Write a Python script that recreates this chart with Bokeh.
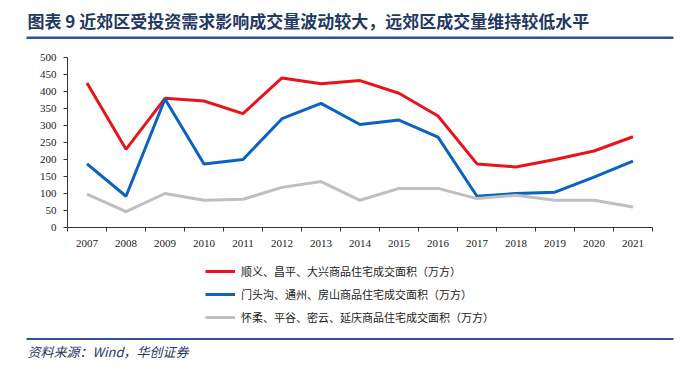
from bokeh.plotting import figure
from bokeh.models import (FixedTicker, Label, BoxAnnotation, Legend, LegendItem,
                          ColumnDataSource, LinearAxis)
from bokeh.embed import file_html
from bokeh.resources import INLINE

years = [2007, 2008, 2009, 2010, 2011, 2012, 2013, 2014, 2015, 2016, 2017, 2018, 2019, 2020, 2021]
near = [425, 230, 380, 372, 335, 440, 423, 432, 395, 328, 187, 178, 200, 225, 267]
mid = [187, 92, 378, 187, 200, 320, 365, 303, 316, 266, 92, 100, 104, 148, 195]
far = [98, 47, 100, 80, 83, 118, 135, 80, 115, 115, 85, 95, 80, 80, 60]
series_names = ["顺义、昌平、大兴商品住宅成交面积（万方）",
                "门头沟、通州、房山商品住宅成交面积（万方）",
                "怀柔、平谷、密云、延庆商品住宅成交面积（万方）"]
y_ticks = [0, 50, 100, 150, 200, 250, 300, 350, 400, 450, 500]
title_text = "图表 9  近郊区受投资需求影响成交量波动较大，远郊区成交量维持较低水平"
source_text = "资料来源：Wind，华创证券"

# layout (canvas pixels, measured from top-left)
W, H = 684, 362
px_left, px_right = 67, 652          # plot area x extent
px_top, px_bottom = 57, 227          # y of 500 and of 0
x0, x1 = years[0] - 0.5, years[-1] + 0.5
y0, y1 = 0, 500
sx = (px_right - px_left) / (x1 - x0)
sy = (px_bottom - px_top) / (y1 - y0)
x_range = (x0 - px_left / sx, x1 + (W - px_right) / sx)
y_range = (y0 - (H - px_bottom) / sy, y1 + px_top / sy)

def fy(top_y):
    """screen y measured from bottom"""
    return H - top_y

p = figure(width=W, height=H, output_backend="svg", toolbar_location=None,
           x_range=x_range, y_range=y_range,
           x_axis_location=None, y_axis_location=None,
           min_border=0)
p.outline_line_color = None
p.xgrid.visible = False
p.ygrid.visible = False

cols = ["#E8141C", "#0B62C0", "#BFBFBF"]
rs = []
for vals, c in zip([near, mid, far], cols):
    src = ColumnDataSource(dict(x=years, y=vals))
    rs.append(p.line("x", "y", source=src, line_color=c, line_width=3))

tick_font = "Liberation Serif"
axc = "#333333"
xaxis = LinearAxis(fixed_location=0, bounds=(x0, x1),
                   ticker=FixedTicker(ticks=years, minor_ticks=[y - 0.5 for y in years] + [x1]),
                   major_tick_out=0, major_tick_in=0, minor_tick_out=4, minor_tick_in=0,
                   major_label_text_font=tick_font, major_label_text_font_size="11px",
                   major_label_text_color="#222222", axis_line_color=axc,
                   minor_tick_line_color=axc, major_label_standoff=8)
yaxis = LinearAxis(fixed_location=x0, bounds=(y0, y1),
                   ticker=FixedTicker(ticks=y_ticks, minor_ticks=[]),
                   major_tick_out=4, major_tick_in=0, minor_tick_out=0,
                   major_label_text_font=tick_font, major_label_text_font_size="11px",
                   major_label_text_color="#222222", axis_line_color=axc,
                   major_tick_line_color=axc, major_label_standoff=7)
p.add_layout(xaxis, "below")
p.add_layout(yaxis, "left")

legend = Legend(items=[LegendItem(label=n, renderers=[r]) for n, r in zip(series_names, rs)],
                orientation="vertical", location=(205, fy(317) - 8),
                label_text_font="Noto Sans CJK SC", label_text_font_size="11px",
                label_text_color="#222222", glyph_width=30, glyph_height=14,
                label_height=14, spacing=7, padding=0, margin=0,
                border_line_color=None, background_fill_alpha=0, label_standoff=6)
p.add_layout(legend, "center")

navy = "#1F3864"
rule = "#2F5597"
p.add_layout(Label(x=27, y=fy(20), x_units="screen", y_units="screen", text=title_text,
                   text_font="Noto Sans CJK SC", text_font_style="bold",
                   text_font_size="17px", text_color=navy, text_baseline="middle"))
p.add_layout(BoxAnnotation(left=26, right=673, top=fy(36), bottom=fy(38.5),
                           left_units="screen", right_units="screen",
                           top_units="screen", bottom_units="screen",
                           fill_color=rule, fill_alpha=1, line_color=None))
p.add_layout(BoxAnnotation(left=26, right=673, top=fy(337.5), bottom=fy(339.5),
                           left_units="screen", right_units="screen",
                           top_units="screen", bottom_units="screen",
                           fill_color=rule, fill_alpha=1, line_color=None))
p.add_layout(Label(x=27, y=fy(351), x_units="screen", y_units="screen", text=source_text,
                   text_font="Noto Sans CJK SC", text_font_style="italic",
                   text_font_size="13px", text_color=navy, text_baseline="middle"))

open("out.html", "w").write(file_html(p, INLINE))
